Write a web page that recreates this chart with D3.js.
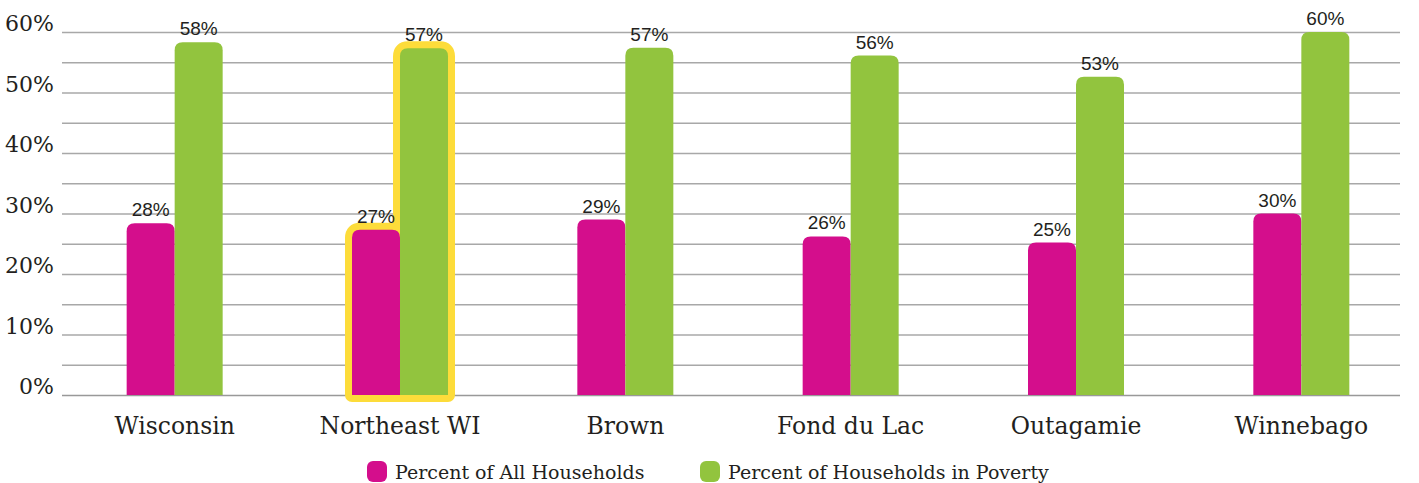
<!DOCTYPE html>
<html>
<head>
<meta charset="utf-8">
<script src="https://cdn.jsdelivr.net/npm/d3@7"></script>
<style>
body { margin: 0; background: #fff; }
svg { display: block; }
</style>
</head>
<body>
<div id="chart"></div>
<script>
var categories = ["Wisconsin", "Northeast WI", "Brown", "Fond du Lac", "Outagamie", "Winnebago"];
var seriesNames = ["Percent of All Households", "Percent of Households in Poverty"];
var allHouseholds = [28.4, 27.3, 29.0, 26.2, 25.2, 30.0];
var povertyHouseholds = [58.3, 57.3, 57.4, 56.1, 52.6, 60.0];
var yTicks = [0, 10, 20, 30, 40, 50, 60];
var gridValues = [0, 5, 10, 15, 20, 25, 30, 35, 40, 45, 50, 55, 60];
var highlighted = "Northeast WI";

var colors = ["#d40e8c", "#92c43e"];
var width = 1419, height = 483;

var svg = d3.select("#chart")
    .append("svg")
    .attr("width", width)
    .attr("height", height);

var y = d3.scaleLinear().domain([0, 60]).range([395, 32]);
var x0 = d3.scaleBand().domain(categories).range([62, 1414]).paddingInner(0);
var groupW = 96;
var x1 = d3.scaleBand().domain(seriesNames).range([0, groupW]);

// grid lines
svg.append("g").selectAll("line")
    .data(gridValues)
    .enter()
    .append("line")
    .attr("x1", 62)
    .attr("x2", 1400)
    .attr("y1", function(d) { return y(d) + 0.5; })
    .attr("y2", function(d) { return y(d) + 0.5; })
    .attr("stroke", function(d) { return d == 0 ? "#999" : "#a8a8a8"; })
    .attr("stroke-width", 1.5);

// y labels
svg.append("g").selectAll("text")
    .data(yTicks)
    .enter()
    .append("text")
    .attr("x", 54)
    .attr("y", function(d) { return y(d) - 1; })
    .attr("text-anchor", "end")
    .attr("font-family", "DejaVu Serif")
    .attr("font-size", 22)
    .attr("fill", "#231f20")
    .text(function(d) { return d + "%"; });

var rows = categories.map(function(c, i) {
    return { cat: c, vals: [allHouseholds[i], povertyHouseholds[i]] };
});

function barPath(x, w, top, bottom, r) {
    return "M" + x + "," + bottom +
        "V" + (top + r) +
        "Q" + x + "," + top + " " + (x + r) + "," + top +
        "H" + (x + w - r) +
        "Q" + (x + w) + "," + top + " " + (x + w) + "," + (top + r) +
        "V" + bottom + "Z";
}

// highlight outline behind the highlighted group
rows.forEach(function(row) {
    if (row.cat != highlighted) return;
    var gx = x0(row.cat) + (x0.bandwidth() - groupW) / 2;
    var xa = gx + x1(seriesNames[0]);
    var xb = gx + x1(seriesNames[1]);
    var bw = x1.bandwidth();
    var ta = y(row.vals[0]), tb = y(row.vals[1]), b = y(0);
    var r = 8;
    var p = "M" + xa + "," + b +
        "V" + (ta + r) +
        "Q" + xa + "," + ta + " " + (xa + r) + "," + ta +
        "H" + xb +
        "V" + (tb + r) +
        "Q" + xb + "," + tb + " " + (xb + r) + "," + tb +
        "H" + (xb + bw - r) +
        "Q" + (xb + bw) + "," + tb + " " + (xb + bw) + "," + (tb + r) +
        "V" + b + "Z";
    svg.append("path")
        .attr("d", p)
        .attr("fill", "#fddc3a")
        .attr("stroke", "#fddc3a")
        .attr("stroke-width", 14)
        .attr("stroke-linejoin", "round");
});

var groups = svg.append("g").selectAll("g")
    .data(rows)
    .enter()
    .append("g")
    .attr("transform", function(d) {
        return "translate(" + (x0(d.cat) + (x0.bandwidth() - groupW) / 2) + ",0)";
    });

groups.selectAll("path")
    .data(function(d) { return d.vals.map(function(v, i) { return { s: seriesNames[i], v: v, i: i }; }); })
    .enter()
    .append("path")
    .attr("d", function(d) { return barPath(x1(d.s), x1.bandwidth(), y(d.v), y(0), 8); })
    .attr("fill", function(d) { return colors[d.i]; });

groups.selectAll("text")
    .data(function(d) { return d.vals.map(function(v, i) { return { s: seriesNames[i], v: v }; }); })
    .enter()
    .append("text")
    .attr("x", function(d) { return x1(d.s) + x1.bandwidth() / 2; })
    .attr("y", function(d) { return y(d.v) - 7; })
    .attr("text-anchor", "middle")
    .attr("font-family", "Liberation Sans")
    .attr("font-size", 19)
    .attr("fill", "#231f20")
    .text(function(d) { return Math.round(d.v) + "%"; });

// category labels
svg.append("g").selectAll("text")
    .data(categories)
    .enter()
    .append("text")
    .attr("x", function(d) { return x0(d) + x0.bandwidth() / 2; })
    .attr("y", 434)
    .attr("text-anchor", "middle")
    .attr("font-family", "DejaVu Serif")
    .attr("font-size", 23.5)
    .attr("fill", "#231f20")
    .text(function(d) { return d; });

// legend
var legendX = [367, 700];
var legend = svg.append("g").selectAll("g")
    .data(seriesNames)
    .enter()
    .append("g")
    .attr("transform", function(d, i) { return "translate(" + legendX[i] + ",461)"; });

legend.append("rect")
    .attr("width", 20)
    .attr("height", 21)
    .attr("rx", 6)
    .attr("fill", function(d, i) { return colors[i]; });

legend.append("text")
    .attr("x", 28)
    .attr("y", 18)
    .attr("font-family", "DejaVu Serif")
    .attr("font-size", 19)
    .attr("fill", "#231f20")
    .text(function(d) { return d; });
</script>
</body>
</html>
